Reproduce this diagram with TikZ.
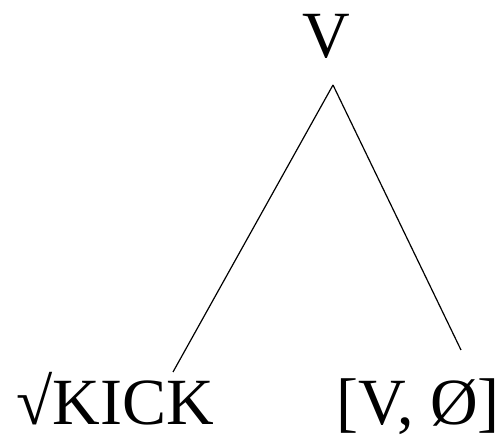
\documentclass[tikz,border=0pt]{standalone}
\usepackage{fontspec}
\setmainfont{Liberation Serif}
\begin{document}
\begin{tikzpicture}[x=1pt,y=1pt,
  lbl/.style={inner sep=0pt,anchor=base,font=\fontsize{66}{70}\selectfont},
  edge/.style={line width=1.2pt}]
\useasboundingbox (0,0) rectangle (501,439);
\node[lbl] (v) at (326,381) {V};
\node[lbl] (kick) at (115,14) {√KICK};
\node[lbl] (feat) at (418,14) {[V, Ø]};
\coordinate (top) at (333,354);
\coordinate (lend) at (173,67);
\coordinate (rend) at (461,89);
\draw[edge] (top) -- (lend);
\draw[edge] (top) -- (rend);
\end{tikzpicture}
\end{document}
